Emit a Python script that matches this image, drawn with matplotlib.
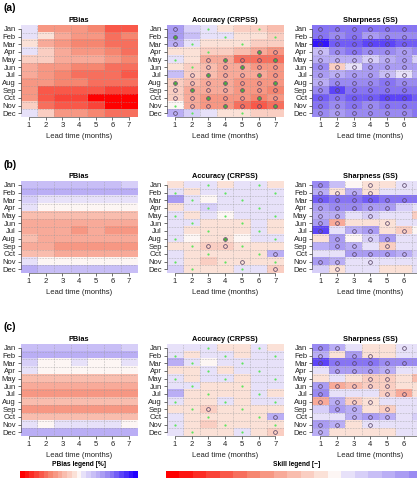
import numpy as np
import matplotlib
matplotlib.use('Agg')
import matplotlib.pyplot as plt
from matplotlib.colors import LinearSegmentedColormap

plt.rcParams['font.family'] = ['Liberation Sans', 'DejaVu Sans']

months = ['Jan', 'Feb', 'Mar', 'Apr', 'May', 'Jun', 'Jul', 'Aug', 'Sep', 'Oct', 'Nov', 'Dec']
leads = [1, 2, 3, 4, 5, 6, 7]
row_labels = ['(a)', '(b)', '(c)']
panel_titles = ['PBias', 'Accuracy (CRPSS)', 'Sharpness (SS)']
xlabel_text = 'Lead time (months)'
pbias_legend_title = 'PBias legend [%]'
skill_legend_title = 'Skill legend [\u2212]'

# ---------------- PBias [%] ----------------
pbias_a = [
    [5, -20, -22, -22, -25, -32, -32],
    [6, -5, -18, -20, -22, -28, -25],
    [-4, -18, -22, -25, -25, -30, -30],
    [4, -10, -18, -20, -20, -25, -28],
    [-10, -10, -15, -18, -18, -22, -25],
    [-15, -22, -22, -25, -25, -28, -30],
    [-18, -22, -25, -28, -28, -28, -32],
    [-20, -22, -25, -25, -28, -28, -30],
    [-22, -32, -32, -32, -35, -38, -38],
    [-22, -32, -38, -38, -48, -48, -48],
    [-10, -30, -32, -35, -38, -50, -50],
    [5, -8, -20, -22, -25, -28, -28],
]
pbias_b = [
    [12, 12, 12, 12, 12, 12, 10],
    [18, 15, 15, 15, 15, 15, 18],
    [10, 5, 5, 5, 5, 5, 5],
    [5, -2, -2, 2, -2, -2, -2],
    [-12, -12, -12, -12, -12, -12, -12],
    [-18, -18, -18, -18, -18, -18, -18],
    [-18, -18, -18, -22, -18, -22, -22],
    [-12, -15, -15, -15, -15, -15, -15],
    [-18, -18, -22, -22, -22, -22, -22],
    [-12, -12, -15, -15, -15, -15, -15],
    [5, -2, 2, 2, 2, 2, -2],
    [15, 12, 12, 12, 12, 12, 12],
]
pbias_c = [
    [12, 12, 12, 12, 12, 12, 8],
    [18, 18, 18, 18, 18, 18, 18],
    [8, 2, 2, 5, 2, 2, 5],
    [5, 2, 2, 2, 2, 2, 2],
    [-12, -12, -12, -12, -12, -12, -12],
    [-18, -18, -18, -18, -18, -18, -18],
    [-20, -20, -20, -20, -20, -20, -20],
    [-12, -12, -12, -12, -12, -12, -12],
    [-20, -20, -20, -20, -20, -20, -20],
    [-12, -12, -12, -12, -12, -12, -12],
    [5, -2, 5, 5, 5, 5, -2],
    [15, 15, 15, 15, 15, 15, 15],
]

# ---------------- Accuracy (CRPSS) ----------------
crpss_a = [
    [0.40, 0.15, 0.05, -0.10, -0.15, -0.20, -0.25],
    [0.40, 0.25, 0.12, 0.12, -0.05, -0.10, -0.15],
    [0.35, 0.10, -0.05, -0.10, -0.10, -0.15, -0.20],
    [-0.05, -0.05, -0.15, -0.20, -0.25, -0.35, -0.40],
    [0.10, -0.10, -0.30, -0.35, -0.55, -0.60, -0.55],
    [-0.05, -0.15, -0.25, -0.30, -0.35, -0.40, -0.45],
    [0.25, -0.20, -0.25, -0.30, -0.35, -0.35, -0.40],
    [-0.15, -0.25, -0.30, -0.35, -0.40, -0.45, -0.40],
    [-0.20, -0.30, -0.30, -0.35, -0.40, -0.45, -0.50],
    [-0.20, -0.35, -0.40, -0.40, -0.45, -0.50, -0.45],
    [0.00, -0.35, -0.45, -0.45, -0.55, -0.70, -0.60],
    [0.35, 0.15, 0.05, -0.05, -0.10, -0.15, -0.20],
]
crpss_b = [
    [-0.05, 0.05, 0.05, -0.10, 0.10, 0.05, -0.05],
    [0.10, -0.05, 0.10, 0.10, 0.05, 0.05, 0.10],
    [0.45, 0.10, 0.00, 0.05, 0.10, 0.10, 0.05],
    [-0.10, 0.05, 0.15, 0.05, 0.10, 0.05, 0.10],
    [0.10, -0.05, 0.05, 0.00, 0.05, 0.10, 0.05],
    [0.05, 0.05, -0.05, -0.05, -0.05, 0.05, -0.05],
    [0.10, -0.10, -0.10, -0.10, -0.05, 0.10, -0.05],
    [0.05, 0.00, -0.10, -0.05, 0.00, 0.05, 0.05],
    [-0.05, -0.05, -0.20, -0.15, -0.05, -0.10, -0.05],
    [0.10, -0.05, -0.10, -0.10, -0.05, -0.05, 0.35],
    [0.10, -0.05, -0.15, -0.10, -0.05, -0.05, -0.05],
    [0.15, -0.05, -0.10, -0.05, 0.10, 0.10, -0.15],
]
crpss_c = [
    [0.10, 0.10, 0.10, -0.05, -0.05, 0.05, -0.05],
    [0.10, -0.05, 0.05, 0.05, -0.05, 0.05, 0.05],
    [0.35, 0.10, 0.00, 0.10, 0.05, 0.10, 0.05],
    [-0.10, -0.05, 0.10, -0.05, 0.05, 0.05, 0.10],
    [0.10, -0.05, 0.05, 0.05, -0.05, 0.05, 0.05],
    [0.05, 0.05, -0.05, -0.05, -0.05, 0.05, 0.05],
    [0.30, -0.05, -0.05, -0.05, -0.05, 0.10, -0.05],
    [0.10, -0.05, -0.10, 0.05, -0.05, 0.10, 0.05],
    [-0.05, -0.05, -0.15, -0.10, -0.05, -0.05, -0.05],
    [0.10, -0.05, -0.10, -0.10, -0.10, -0.05, 0.30],
    [0.05, -0.05, -0.15, -0.10, -0.10, -0.05, -0.05],
    [0.10, -0.05, -0.10, -0.05, 0.10, -0.05, -0.15],
]

# ---------------- Sharpness (SS) ----------------
ss_a = [
    [0.60, 0.55, 0.60, 0.55, 0.55, 0.60, 0.60],
    [0.55, 0.50, 0.55, 0.45, 0.50, 0.50, 0.50],
    [0.95, 0.70, 0.70, 0.75, 0.75, 0.70, 0.70],
    [0.25, 0.50, 0.55, 0.50, 0.50, 0.45, 0.50],
    [0.30, 0.35, 0.30, 0.15, 0.35, 0.40, 0.20],
    [0.50, -0.15, 0.10, 0.45, 0.40, 0.45, 0.40],
    [0.45, 0.30, 0.45, 0.45, 0.25, 0.10, 0.30],
    [0.35, 0.50, 0.50, 0.50, 0.60, 0.50, 0.50],
    [0.50, 0.75, 0.55, 0.55, 0.60, 0.55, 0.55],
    [0.65, 0.60, 0.70, 0.70, 0.75, 0.75, 0.70],
    [0.55, 0.50, 0.55, 0.50, 0.55, 0.60, 0.55],
    [0.50, 0.45, 0.50, 0.50, 0.50, 0.50, 0.55],
]
ss_b = [
    [0.50, 0.25, -0.02, -0.10, -0.10, 0.05, 0.10],
    [0.35, -0.10, 0.35, -0.10, 0.05, 0.05, 0.05],
    [0.70, 0.60, 0.60, 0.65, 0.60, 0.55, 0.55],
    [0.45, 0.50, 0.50, 0.45, 0.40, 0.15, 0.10],
    [0.30, 0.35, 0.10, 0.20, 0.05, 0.05, -0.20],
    [0.40, -0.30, -0.10, -0.05, -0.10, 0.05, 0.05],
    [0.75, 0.10, 0.30, 0.40, -0.05, -0.15, 0.00],
    [-0.05, 0.45, -0.02, 0.15, 0.45, 0.05, 0.05],
    [0.30, 0.45, 0.30, 0.05, -0.20, 0.10, 0.05],
    [0.10, 0.10, 0.40, 0.40, 0.40, 0.30, 0.20],
    [0.40, 0.35, 0.05, 0.10, 0.10, 0.05, 0.05],
    [0.15, -0.10, 0.05, 0.05, -0.05, -0.05, 0.05],
]
ss_c = [
    [0.50, 0.30, 0.10, -0.10, -0.05, 0.10, 0.10],
    [0.30, -0.10, 0.40, -0.10, -0.05, 0.05, 0.10],
    [0.75, 0.60, 0.60, 0.60, 0.50, 0.50, 0.50],
    [0.10, 0.45, 0.45, 0.40, 0.35, 0.05, 0.10],
    [-0.05, 0.05, -0.10, -0.20, -0.15, -0.10, -0.25],
    [0.40, -0.35, -0.25, -0.20, -0.20, -0.10, -0.05],
    [0.50, 0.05, 0.05, 0.10, -0.20, -0.30, -0.05],
    [-0.30, 0.35, -0.15, -0.10, 0.05, 0.05, 0.05],
    [0.20, 0.40, 0.30, -0.05, -0.20, 0.05, 0.05],
    [0.05, 0.05, 0.30, 0.40, 0.35, 0.05, 0.15],
    [0.40, 0.35, -0.05, 0.05, 0.05, 0.05, 0.05],
    [0.35, -0.05, -0.05, -0.05, -0.05, 0.05, 0.10],
]

# ---------------- markers (lead times per month) ----------------
dots_acc = [[3, 6], [1, 4, 7], [2, 5], [3, 6], [1, 4, 7], [2, 5],
            [3, 6], [1, 4, 7], [2, 5], [3, 6], [1, 4, 7], [2, 5]]
circ_acc_a = [[1], [1], [1], [6, 7], [3, 4, 5, 6, 7], [3, 4, 5, 6, 7],
              [2, 3, 4, 5, 6, 7], [1, 2, 3, 4, 5, 6, 7], [1, 2, 3, 4, 5, 6, 7],
              [1, 2, 3, 4, 5, 6, 7], [2, 3, 4, 5, 6, 7], [1]]
circ_acc_b = [[], [], [], [], [], [], [], [4], [3, 4], [7], [5], [7]]
circ_acc_c = [[], [], [], [], [], [], [], [], [3], [7], [], [7]]
circ_ss_a = [[1, 2, 3, 4, 5, 6, 7]] * 12
circ_ss_b = [[1, 4, 6], [1, 2, 3, 4], [1, 2, 3, 4, 5, 6, 7], [1, 2, 3, 4, 5], [1, 2, 4],
             [1, 2, 5], [1, 3, 4, 6], [2, 4, 5], [2, 3, 5], [3, 4, 5, 6], [1, 2, 4], [2]]
circ_ss_c = [[1, 2, 6], [1, 3, 4], [1, 2, 3, 4, 5, 6, 7], [2, 3, 4, 5], [4, 5],
             [1, 2, 3, 4, 5], [1, 5, 6], [1, 2, 3, 4], [2, 3, 5], [3, 4, 5], [1, 2, 4], [1]]

panels = [
    [(pbias_a, None, None, 'pbias'), (crpss_a, circ_acc_a, dots_acc, 'skill'), (ss_a, circ_ss_a, None, 'skill')],
    [(pbias_b, None, None, 'pbias'), (crpss_b, circ_acc_b, dots_acc, 'skill'), (ss_b, circ_ss_b, None, 'skill')],
    [(pbias_c, None, None, 'pbias'), (crpss_c, circ_acc_c, dots_acc, 'skill'), (ss_c, circ_ss_c, None, 'skill')],
]

cmap = LinearSegmentedColormap.from_list('rwb', [
    (0.00, '#FF0000'), (0.25, '#F68670'), (0.46, '#FCE2D8'), (0.50, '#FFF8F4'),
    (0.54, '#E8E2FA'), (0.75, '#9C8CF2'), (1.00, '#2000FF')])

PB_SCALE = 50.0
NSTEP = 12


def q_color(v):
    vq = np.clip(np.round(np.asarray(v, float) * NSTEP) / NSTEP, -1, 1)
    return cmap(0.5 + vq / 2)


W, H = 417.0, 478.0
fig = plt.figure(figsize=(W / 100, H / 100), dpi=100)


def px_axes(x, y, w, h):
    return fig.add_axes([x / W, 1 - (y + h) / H, w / W, h / H])


col_x = [20.6, 166.7, 312.0]
cell_w = 16.7
row_y = [25.0, 181.0, 344.0]
cell_h = 7.67
label_y = [8.0, 165.0, 327.0]

FS = 5.5
for r in range(3):
    fig.text(4 / W, 1 - label_y[r] / H, row_labels[r], fontsize=7.5,
             fontweight='bold', va='center', ha='left')
    for c in range(3):
        data, circ, dots, kind = panels[r][c]
        arr = np.array(data, float)
        if kind == 'pbias':
            arr = arr / PB_SCALE
        rgb = q_color(arr)
        ax = px_axes(col_x[c], row_y[r], cell_w * 7, cell_h * 12)
        ax.imshow(rgb, extent=(0.5, 7.5, 12.5, 0.5), aspect='auto',
                  interpolation='nearest')
        ax.set_xlim(0.5, 7.5)
        ax.set_ylim(12.5, 0.5)
        for xv in np.arange(1.5, 7.0, 1.0):
            ax.axvline(xv, color='#9a9a9a', lw=0.45, ls=(0, (1, 1.5)))
        for yv in np.arange(1.5, 12.0, 1.0):
            ax.axhline(yv, color='#9a9a9a', lw=0.45, ls=(0, (1, 1.5)))
        if dots is not None:
            for i, ls in enumerate(dots):
                for l in ls:
                    filled = circ is not None and l in circ[i]
                    ax.plot(l, i + 1, 'o', ms=2.3 if filled else 1.6,
                            color='#4caf3c' if filled else '#5ee65e', mew=0, zorder=3)
        if circ is not None:
            for i, ls in enumerate(circ):
                for l in ls:
                    ax.plot(l, i + 1, 'o', ms=2.7, mfc='none', mec='#5a4868',
                            mew=0.55, zorder=4)
        ax.set_title(panel_titles[c], fontsize=5.3, fontweight='bold', pad=2.5)
        ax.set_xticks(leads)
        if c == 2:
            # the 7th lead label lies outside the visible figure in the reference
            ax.set_xticklabels([str(l) if l < 7 else '' for l in leads])
        else:
            ax.set_xticklabels([str(l) for l in leads])
        ax.set_yticks(range(1, 13))
        ax.set_yticklabels(months)
        ax.tick_params(labelsize=FS, length=2.2, width=0.5, pad=1.2,
                       colors='#333333', labelcolor='#222222')
        for s in ['top', 'right']:
            ax.spines[s].set_visible(False)
        ax.spines['left'].set_bounds(1, 12)
        ax.spines['bottom'].set_bounds(1, 7)
        for s in ['left', 'bottom']:
            ax.spines[s].set_linewidth(0.5)
            ax.spines[s].set_color('#555555')
        ax.set_xlabel(xlabel_text, fontsize=FS, labelpad=3, color='#222222')

# ---------------- legends ----------------
pb_steps = np.arange(-NSTEP, NSTEP + 1) / NSTEP * PB_SCALE
sk_steps = np.arange(-NSTEP, 10) / NSTEP

cax1 = px_axes(20.0, 471.0, 118.0, 10.0)
cax1.imshow(q_color(pb_steps / PB_SCALE)[None, :, :], aspect='auto',
            interpolation='nearest', extent=(0, len(pb_steps), 0, 1))
cax1.set_axis_off()
fig.text(79 / W, 1 - 464 / H, pbias_legend_title, fontsize=4.8, fontweight='bold',
         ha='center', va='center')

cax2 = px_axes(166.0, 471.0, 13.5 * len(sk_steps), 10.0)
cax2.imshow(q_color(sk_steps)[None, :, :], aspect='auto',
            interpolation='nearest', extent=(0, len(sk_steps), 0, 1))
cax2.set_axis_off()
fig.text(297 / W, 1 - 464 / H, skill_legend_title, fontsize=4.8, fontweight='bold',
         ha='center', va='center')

fig.savefig('out.png', dpi=100)
